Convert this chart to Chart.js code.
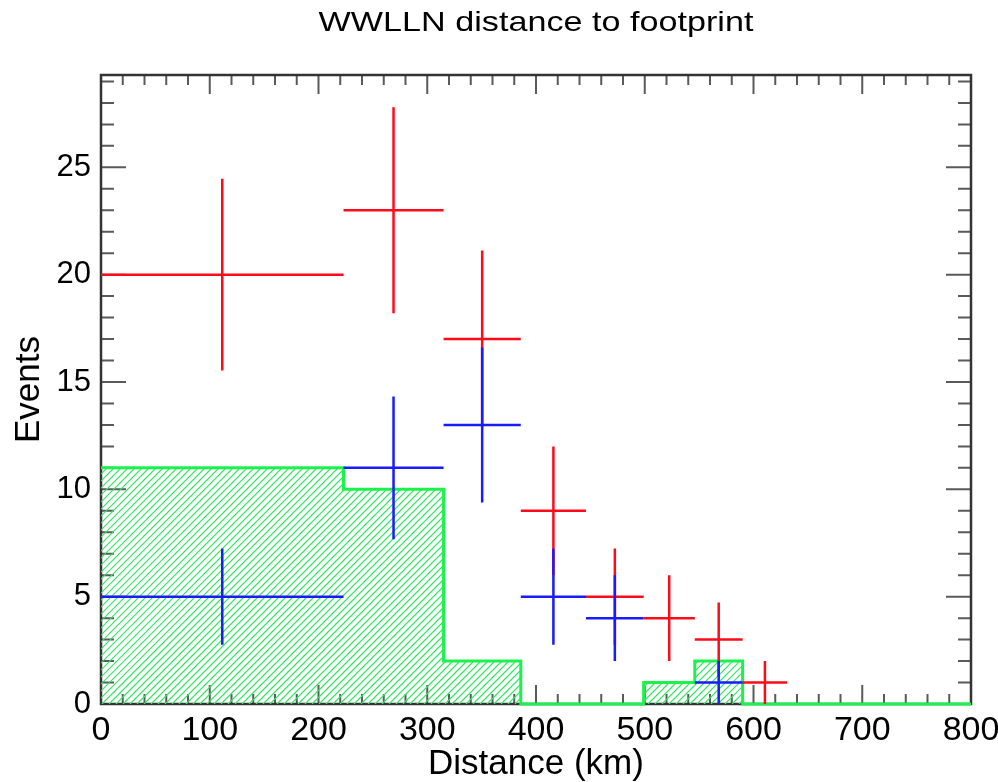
<!DOCTYPE html>
<html>
<head>
<meta charset="utf-8">
<title>WWLLN distance to footprint</title>
<script src="https://cdn.jsdelivr.net/npm/chart.js@4.4.1/dist/chart.umd.min.js"></script>
<style>
    html, body { margin: 0; padding: 0; background: #fff; }
    #wrap { width: 998px; height: 782px; position: relative; }
</style>
</head>
<body>
<div id="wrap"><canvas id="distChart"></canvas></div>
<script>
// Bin edges and centres (km)
const binEdges = [0, 223, 315, 386, 446, 499, 546, 590, 631];
const binCenters = [111.5, 269, 350.5, 416, 472.5, 522.5, 568, 610.5];

// Red crosses
const redCounts = [20, 23, 17, 9, 5, 4, 3, 1];
const redErrors = [4.47, 4.80, 4.12, 3.00, 2.24, 2.00, 1.73, 1.00];

// Blue crosses (0 = no cross drawn)
const blueCounts = [5, 11, 13, 5, 4, 0, 1, 0];
const blueErrors = [2.24, 3.32, 3.61, 2.24, 2.00, 0, 1.00, 0];

// Green hatched histogram
const greenCounts = [11, 10, 2, 0, 0, 1, 2, 0];

// Axes
const xTicks = [0, 100, 200, 300, 400, 500, 600, 700, 800];
const yTicks = [0, 5, 10, 15, 20, 25];
const xMax = 800;
const yMax = 29.3;
const xMinorStep = 20;
const yMinorStep = 1;

const chartTitle = 'WWLLN distance to footprint';
const FONT = '"Liberation Sans", Arial, Helvetica, sans-serif';

// each cross = horizontal bin width + vertical error bar, separated by gaps
function crossPoints(counts, errors) {
    const pts = [];
    counts.forEach((n, i) => {
        if (!n) return;
        const c = binCenters[i];
        pts.push({ x: binEdges[i], y: n }, { x: binEdges[i + 1], y: n }, { x: c, y: null });
        pts.push({ x: c, y: n - errors[i] }, { x: c, y: n + errors[i] }, { x: c, y: null });
    });
    return pts;
}

const histPoints = binEdges.slice(0, -1).map((x, i) => ({ x: x, y: greenCounts[i] }));
histPoints.push({ x: binEdges[binEdges.length - 1], y: 0 }, { x: xMax, y: 0 });

const ctx = document.getElementById('distChart').getContext('2d');

// IDL-style box with inward ticks on all four sides
const frameTicks = {
    id: 'frameTicks',
    beforeDatasetsDraw(chart) {
        const { ctx, chartArea: a, scales: { x, y } } = chart;
        ctx.save();
        ctx.strokeStyle = '#5a5a5a';
        ctx.lineWidth = 2;
        ctx.beginPath();
        for (let v = 0; v <= xMax; v += xMinorStep) {
            const px = x.getPixelForValue(v);
            const len = v % 100 === 0 ? 19 : 10;
            ctx.moveTo(px, a.bottom); ctx.lineTo(px, a.bottom - len);
            ctx.moveTo(px, a.top); ctx.lineTo(px, a.top + len);
        }
        for (let v = 0; v <= yMax; v += yMinorStep) {
            const py = y.getPixelForValue(v);
            const len = v % 5 === 0 ? 25 : 13;
            ctx.moveTo(a.left, py); ctx.lineTo(a.left + len, py);
            ctx.moveTo(a.right, py); ctx.lineTo(a.right - len, py);
        }
        ctx.stroke();
        ctx.strokeStyle = '#333';
        ctx.lineWidth = 2.5;
        ctx.strokeRect(a.left, a.top, a.width, a.height);
        ctx.restore();
    }
};

// diagonal green hatch inside the histogram outline
const hatchFill = {
    id: 'hatchFill',
    beforeDatasetsDraw(chart) {
        const { ctx, chartArea: a, scales: { x, y } } = chart;
        const y0 = y.getPixelForValue(0);
        ctx.save();
        ctx.beginPath();
        ctx.moveTo(x.getPixelForValue(histPoints[0].x), y0);
        histPoints.forEach((p, i) => {
            const py = y.getPixelForValue(p.y);
            ctx.lineTo(x.getPixelForValue(p.x), py);
            const next = histPoints[i + 1];
            if (next) ctx.lineTo(x.getPixelForValue(next.x), py);
        });
        ctx.lineTo(x.getPixelForValue(histPoints[histPoints.length - 1].x), y0);
        ctx.closePath();
        ctx.clip();
        ctx.strokeStyle = '#2ee860';
        ctx.lineWidth = 1.2;
        ctx.beginPath();
        for (let k = a.left - a.height; k < a.right; k += 7) {
            ctx.moveTo(k, a.bottom);
            ctx.lineTo(k + a.height, a.top);
        }
        ctx.stroke();
        ctx.restore();
    }
};

// title centred over the plot box, slightly wide like the original
const plotTitle = {
    id: 'plotTitle',
    afterDraw(chart) {
        const { ctx, chartArea: a } = chart;
        ctx.save();
        ctx.fillStyle = '#000';
        ctx.font = '28px ' + FONT;
        ctx.textAlign = 'center';
        ctx.textBaseline = 'alphabetic';
        ctx.translate((a.left + a.right) / 2, 31);
        ctx.scale(1.22, 1);
        ctx.fillText(chartTitle, 0, 0);
        ctx.restore();
    }
};

const distChart = new Chart(ctx, {
    type: 'line',
    data: {
        datasets: [
            {
                label: 'blue',
                data: crossPoints(blueCounts, blueErrors),
                borderColor: '#1a1aff',
                borderWidth: 2.5,
                pointRadius: 0,
                spanGaps: false,
                fill: false,
                order: 1,
                clip: false
            },
            {
                label: 'red',
                data: crossPoints(redCounts, redErrors),
                borderColor: '#ff0a1a',
                borderWidth: 2.5,
                pointRadius: 0,
                spanGaps: false,
                fill: false,
                order: 2,
                clip: false
            },
            {
                label: 'histogram',
                data: histPoints,
                borderColor: '#1cf24c',
                borderWidth: 3,
                stepped: 'before',
                fill: false,
                pointRadius: 0,
                order: 3,
                clip: false
            }
        ]
    },
    options: {
        responsive: true,
        maintainAspectRatio: false,
        animation: false,
        events: [],
        layout: { padding: { left: 0, right: 27, top: 75, bottom: 0 } },
        scales: {
            x: {
                type: 'linear',
                min: 0,
                max: xMax,
                afterBuildTicks: s => { s.ticks = xTicks.map(v => ({ value: v })); },
                afterFit: s => { s.height = 78; s.paddingLeft = 0; s.paddingRight = 0; },
                grid: { display: false, drawTicks: false },
                border: { display: false },
                ticks: {
                    color: '#000',
                    font: { family: FONT, size: 34 },
                    padding: 6,
                    maxRotation: 0,
                    autoSkip: false
                },
                title: {
                    display: true,
                    text: 'Distance (km)',
                    color: '#000',
                    font: { family: FONT, size: 35, lineHeight: 1 },
                    padding: 0
                }
            },
            y: {
                type: 'linear',
                min: 0,
                max: yMax,
                afterBuildTicks: s => { s.ticks = yTicks.map(v => ({ value: v })); },
                afterFit: s => { s.width = 101; s.paddingTop = 0; s.paddingBottom = 0; },
                grid: { display: false, drawTicks: false },
                border: { display: false },
                ticks: {
                    color: '#000',
                    font: { family: FONT, size: 31 },
                    padding: 10
                },
                title: {
                    display: true,
                    text: 'Events',
                    color: '#000',
                    font: { family: FONT, size: 35, lineHeight: 1 },
                    padding: 12
                }
            }
        },
        plugins: {
            legend: { display: false },
            tooltip: { enabled: false },
            title: { display: false }
        }
    },
    plugins: [frameTicks, hatchFill, plotTitle]
});
</script>
</body>
</html>
